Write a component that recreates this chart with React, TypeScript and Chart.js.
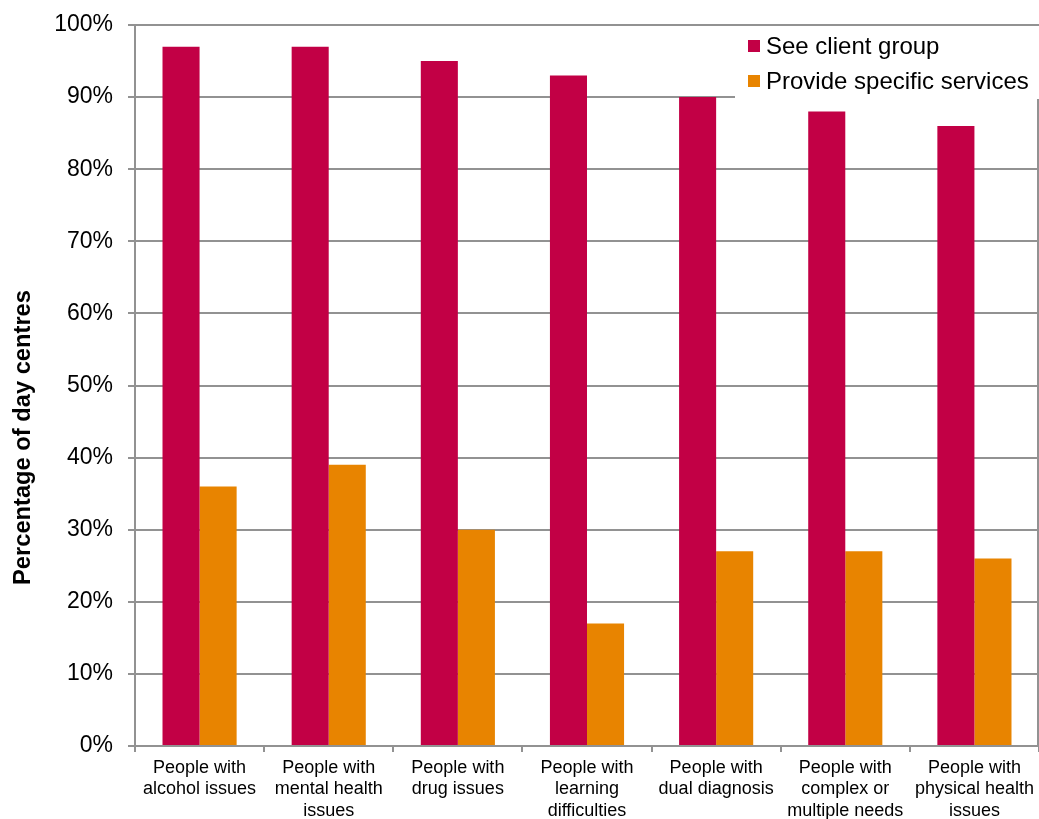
import React, { useEffect, useRef } from "react";
import { Chart, registerables } from "chart.js";

Chart.register(...registerables);

// Client groups seen at day centres
const categories: string[][] = [
  ["People with", "alcohol issues"],
  ["People with", "mental health", "issues"],
  ["People with", "drug issues"],
  ["People with", "learning", "difficulties"],
  ["People with", "dual diagnosis"],
  ["People with", "complex or", "multiple needs"],
  ["People with", "physical health", "issues"],
];

const seeClientGroup = [97, 97, 95, 93, 90, 88, 86];
const provideSpecificServices = [36, 39, 30, 17, 27, 27, 26];

const seriesLabels = ["See client group", "Provide specific services"];
const seriesColors = ["#C20045", "#E88400"];

const yTickValues = [0, 10, 20, 30, 40, 50, 60, 70, 80, 90, 100];
const yAxisTitle = "Percentage of day centres";

const FONT = "'Liberation Sans', Arial, sans-serif";
const GRID = "#929292";

// Legend with a white backing box, plus the rotated axis title and right frame line
const decorations = {
  id: "decorations",
  afterDraw(chart: any) {
    const { ctx, chartArea } = chart;
    ctx.save();

    // right frame line of the plot area
    ctx.strokeStyle = GRID;
    ctx.lineWidth = 2;
    ctx.beginPath();
    ctx.moveTo(chartArea.right - 1, chartArea.top);
    ctx.lineTo(chartArea.right - 1, chartArea.bottom);
    ctx.stroke();

    // legend
    const boxLeft = 735;
    const boxTop = chartArea.top + 1;
    const boxRight = chart.width;
    const boxBottom = 99;
    ctx.fillStyle = "#ffffff";
    ctx.fillRect(boxLeft, boxTop, boxRight - boxLeft, boxBottom - boxTop);

    ctx.font = `24px ${FONT}`;
    ctx.textBaseline = "middle";
    ctx.textAlign = "left";
    chart.data.datasets.forEach((ds: any, i: number) => {
      const cy = 46 + i * 35;
      ctx.fillStyle = ds.backgroundColor;
      ctx.fillRect(748, cy - 6, 12, 12);
      ctx.fillStyle = "#000000";
      ctx.fillText(ds.label, 766, cy + 1);
    });

    // y axis title
    ctx.translate(23, (chartArea.top + chartArea.bottom) / 2 + 52);
    ctx.rotate(-Math.PI / 2);
    ctx.font = `bold 23.7px ${FONT}`;
    ctx.textAlign = "center";
    ctx.textBaseline = "middle";
    ctx.fillStyle = "#000000";
    ctx.fillText(yAxisTitle, 0, 0);

    ctx.restore();
  },
};

export default function App() {
  const canvasRef = useRef<HTMLCanvasElement | null>(null);

  useEffect(() => {
    document.body.style.margin = "0";
    const canvas = canvasRef.current;
    if (!canvas) return;

    const chart = new Chart(canvas, {
      type: "bar",
      data: {
        labels: categories,
        datasets: [
          {
            label: seriesLabels[0],
            data: seeClientGroup,
            backgroundColor: seriesColors[0],
            borderWidth: 0,
          },
          {
            label: seriesLabels[1],
            data: provideSpecificServices,
            backgroundColor: seriesColors[1],
            borderWidth: 0,
          },
        ],
      },
      options: {
        responsive: false,
        animation: false,
        devicePixelRatio: 1,
        layout: { padding: { top: 25, right: 0, bottom: 0, left: 0 } },
        plugins: {
          legend: { display: false },
          tooltip: { enabled: false },
        },
        datasets: {
          bar: { categoryPercentage: 0.574, barPercentage: 1 },
        },
        scales: {
          x: {
            grid: {
              offset: true,
              drawOnChartArea: false,
              drawTicks: true,
              tickLength: 6,
              color: GRID,
              lineWidth: 2,
            },
            border: { color: GRID, width: 2 },
            ticks: {
              color: "#000000",
              padding: 5,
              maxRotation: 0,
              autoSkip: false,
              font: { family: FONT, size: 18, lineHeight: 1.2 },
            },
            afterFit(scale: any) {
              scale.height = 73;
              scale.paddingLeft = 0;
              scale.paddingRight = 0;
            },
          },
          y: {
            min: 0,
            max: 100,
            afterBuildTicks(scale: any) {
              scale.ticks = yTickValues.map((v) => ({ value: v }));
            },
            grid: {
              color: GRID,
              lineWidth: 2,
              drawTicks: true,
              tickLength: 7,
            },
            border: { color: GRID, width: 2 },
            ticks: {
              color: "#000000",
              padding: 15,
              font: { family: FONT, size: 23 },
              callback: (v: any) => `${v}%`,
            },
            afterFit(scale: any) {
              scale.width = 135;
              scale.paddingTop = 0;
              scale.paddingBottom = 0;
            },
          },
        },
      },
      plugins: [decorations],
    });

    return () => chart.destroy();
  }, []);

  return (
    <div style={{ width: 1039, height: 819, background: "#ffffff" }}>
      <canvas ref={canvasRef} width={1039} height={819} style={{ display: "block" }} />
    </div>
  );
}
